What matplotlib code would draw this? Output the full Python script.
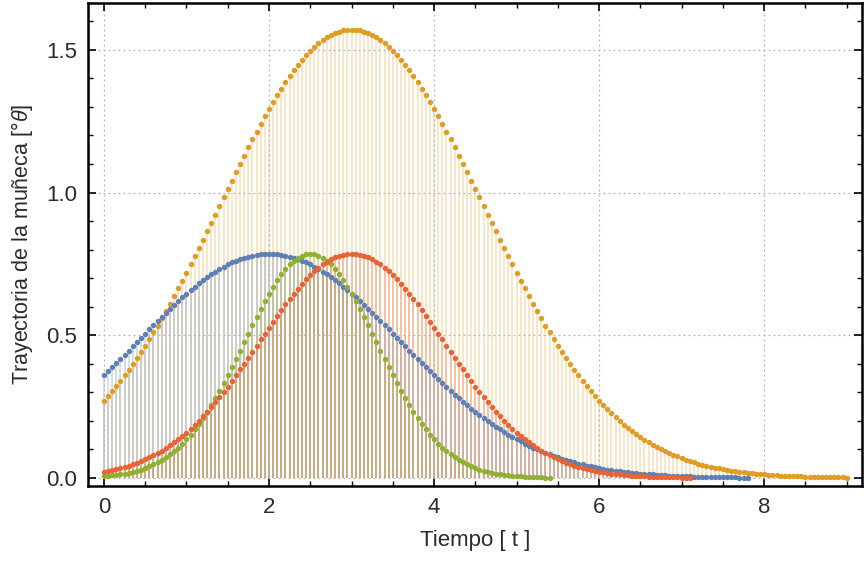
import numpy as np
import matplotlib
matplotlib.use("Agg")
import matplotlib.pyplot as plt

plt.rcParams['font.family'] = ['Liberation Sans', 'DejaVu Sans']
plt.rcParams['mathtext.fontset'] = 'custom'
plt.rcParams['mathtext.it'] = 'Liberation Sans:italic'
plt.rcParams['mathtext.rm'] = 'Liberation Sans'

# sample spacing of the recordings (s)
dt = 0.05

# wrist trajectory samples, starting at t = 0
blue = [0.359, 0.374, 0.388, 0.402, 0.417, 0.432, 0.446, 0.461, 0.476, 0.491,
        0.506, 0.521, 0.535, 0.550, 0.564, 0.579, 0.593, 0.606, 0.620, 0.633,
        0.646, 0.658, 0.670, 0.682, 0.693, 0.703, 0.713, 0.723, 0.732, 0.740,
        0.748, 0.755, 0.761, 0.766, 0.771, 0.775, 0.779, 0.782, 0.783, 0.785,
        0.785,
        0.785, 0.783, 0.782, 0.779, 0.775, 0.771, 0.766, 0.761, 0.755, 0.748,
        0.740, 0.732, 0.723, 0.713, 0.703, 0.693, 0.682, 0.670, 0.658, 0.646,
        0.633, 0.620, 0.606, 0.593, 0.579, 0.564, 0.550, 0.535, 0.521, 0.506,
        0.491, 0.476, 0.461, 0.446, 0.432, 0.417, 0.402, 0.388, 0.374, 0.359,
        0.345, 0.332, 0.318, 0.305, 0.292, 0.279, 0.267, 0.255, 0.243, 0.232,
        0.220, 0.210, 0.199, 0.189, 0.179, 0.170, 0.161, 0.152, 0.143, 0.135,
        0.128, 0.120, 0.113, 0.106, 0.100, 0.094, 0.088, 0.082, 0.077, 0.072,
        0.067, 0.062, 0.058, 0.054, 0.050, 0.047, 0.043, 0.040, 0.037, 0.034,
        0.032, 0.029, 0.027, 0.025, 0.023, 0.021, 0.019, 0.018, 0.016, 0.015,
        0.014, 0.013, 0.012, 0.010, 0.010, 0.009, 0.008, 0.007, 0.007, 0.006,
        0.005, 0.005, 0.004, 0.004, 0.004, 0.003, 0.003, 0.003, 0.002, 0.002,
        0.002, 0.002, 0.002, 0.001, 0.001, 0.001]

orange = [0.271, 0.287, 0.304, 0.322, 0.340, 0.359, 0.378, 0.399, 0.420, 0.441,
          0.463, 0.486, 0.510, 0.534, 0.559, 0.584, 0.610, 0.637, 0.664, 0.691,
          0.719, 0.748, 0.776, 0.805, 0.834, 0.864, 0.893, 0.923, 0.953, 0.983,
          1.012, 1.042, 1.071, 1.100, 1.129, 1.158, 1.186, 1.213, 1.240, 1.267,
          1.292, 1.317, 1.341, 1.364, 1.386, 1.408, 1.428, 1.447, 1.464, 1.481,
          1.496, 1.510, 1.523, 1.534, 1.544, 1.552, 1.559, 1.564, 1.568, 1.570,
          1.571,
          1.570, 1.568, 1.564, 1.559, 1.552, 1.544, 1.534, 1.523, 1.510, 1.496,
          1.481, 1.464, 1.447, 1.428, 1.408, 1.386, 1.364, 1.341, 1.317, 1.292,
          1.267, 1.240, 1.213, 1.186, 1.158, 1.129, 1.100, 1.071, 1.042, 1.012,
          0.983, 0.953, 0.923, 0.893, 0.864, 0.834, 0.805, 0.776, 0.748, 0.719,
          0.691, 0.664, 0.637, 0.610, 0.584, 0.559, 0.534, 0.510, 0.486, 0.463,
          0.441, 0.420, 0.399, 0.378, 0.359, 0.340, 0.322, 0.304, 0.287, 0.271,
          0.255, 0.240, 0.226, 0.213, 0.200, 0.187, 0.175, 0.164, 0.154, 0.144,
          0.134, 0.125, 0.116, 0.108, 0.101, 0.094, 0.087, 0.081, 0.075, 0.069,
          0.064, 0.059, 0.054, 0.050, 0.046, 0.042, 0.039, 0.036, 0.033, 0.030,
          0.028, 0.025, 0.023, 0.021, 0.019, 0.017, 0.016, 0.014, 0.013, 0.012,
          0.011, 0.010, 0.009, 0.008, 0.007, 0.007, 0.006, 0.005, 0.005, 0.004,
          0.004, 0.003, 0.003, 0.003, 0.002, 0.002, 0.002, 0.002, 0.002, 0.001]

green = [0.006, 0.007, 0.009, 0.010, 0.013, 0.015, 0.018, 0.021, 0.025, 0.029,
         0.034, 0.040, 0.047, 0.054, 0.062, 0.072, 0.082, 0.094, 0.106, 0.120,
         0.135, 0.152, 0.170, 0.189, 0.210, 0.232, 0.255, 0.279, 0.305, 0.332,
         0.359, 0.388, 0.417, 0.446, 0.476, 0.506, 0.535, 0.564, 0.593, 0.620,
         0.646, 0.670, 0.693, 0.713, 0.732, 0.748, 0.761, 0.771, 0.779, 0.783,
         0.785,
         0.783, 0.779, 0.771, 0.761, 0.748, 0.732, 0.713, 0.693, 0.670, 0.646,
         0.620, 0.593, 0.564, 0.535, 0.506, 0.476, 0.446, 0.417, 0.388, 0.359,
         0.332, 0.305, 0.279, 0.255, 0.232, 0.210, 0.189, 0.170, 0.152, 0.135,
         0.120, 0.106, 0.094, 0.082, 0.072, 0.062, 0.054, 0.047, 0.040, 0.034,
         0.029, 0.025, 0.021, 0.018, 0.015, 0.013, 0.010, 0.009, 0.007, 0.006,
         0.005, 0.004, 0.003, 0.003, 0.002, 0.002, 0.001, 0.001]

red = [0.022, 0.024, 0.027, 0.031, 0.034, 0.039, 0.043, 0.048, 0.053, 0.059,
       0.065, 0.072, 0.079, 0.087, 0.095, 0.104, 0.114, 0.124, 0.135, 0.147,
       0.159, 0.172, 0.186, 0.201, 0.216, 0.232, 0.248, 0.265, 0.283, 0.301,
       0.320, 0.340, 0.359, 0.380, 0.400, 0.421, 0.442, 0.463, 0.485, 0.506,
       0.527, 0.548, 0.568, 0.589, 0.608, 0.627, 0.646, 0.663, 0.680, 0.696,
       0.711, 0.724, 0.737, 0.748, 0.757, 0.766, 0.773, 0.778, 0.782, 0.784,
       0.785,
       0.784, 0.782, 0.778, 0.773, 0.766, 0.757, 0.748, 0.737, 0.724, 0.711,
       0.696, 0.680, 0.663, 0.646, 0.627, 0.608, 0.589, 0.568, 0.548, 0.527,
       0.506, 0.485, 0.463, 0.442, 0.421, 0.400, 0.380, 0.359, 0.340, 0.320,
       0.301, 0.283, 0.265, 0.248, 0.232, 0.216, 0.201, 0.186, 0.172, 0.159,
       0.147, 0.135, 0.124, 0.114, 0.104, 0.095, 0.087, 0.079, 0.072, 0.065,
       0.059, 0.053, 0.048, 0.043, 0.039, 0.034, 0.031, 0.027, 0.024, 0.022,
       0.019, 0.017, 0.015, 0.013, 0.012, 0.010, 0.009, 0.008, 0.007, 0.006,
       0.005, 0.004, 0.004, 0.003, 0.003, 0.002, 0.002, 0.002, 0.002, 0.001,
       0.001, 0.001]

series = [
    (orange, '#E19C24'),
    (blue, '#5E81B5'),
    (green, '#8FB032'),
    (red, '#EB6235'),
]

fig = plt.figure(figsize=(8.65, 5.63), dpi=100)
ax = fig.add_axes([0.102, 0.137, 0.894, 0.858])

# filling to axis (stems) first, then the points on top
for vals, col in series:
    t = np.arange(len(vals)) * dt
    ax.vlines(t, 0, vals, colors=col, alpha=0.28, lw=1.3, zorder=1)
for vals, col in series:
    t = np.arange(len(vals)) * dt
    ax.plot(t, vals, 'o', color=col, ms=3.9, mew=0, zorder=3)

ax.set_xlim(-0.19, 9.18)
ax.set_ylim(-0.028, 1.665)
ax.set_xticks([0, 2, 4, 6, 8])
ax.set_xticks(np.arange(0, 9.01, 0.5), minor=True)
ax.set_yticks([0.0, 0.5, 1.0, 1.5])
ax.set_yticklabels(['0.0', '0.5', '1.0', '1.5'])
ax.set_yticks(np.arange(0, 1.61, 0.1), minor=True)

ax.grid(True, which='major', ls=(0, (1.5, 2.5)), color='#B5B5B5', lw=0.9, zorder=0)

ax.tick_params(which='both', direction='in', top=True, right=True,
               labelsize=16, colors='black', labelcolor='#2b2b2b')
ax.tick_params(which='major', length=6, width=1.2, pad=8)
ax.tick_params(which='minor', length=3.5, width=1.0)
for s in ax.spines.values():
    s.set_linewidth(1.8)
    s.set_color('black')

ax.set_xlabel('Tiempo [ t ]', fontsize=16, color='#2b2b2b', labelpad=9)
ax.set_ylabel(r'Trayectoria de la muñeca [°$\theta$]', fontsize=15.5,
              color='#2b2b2b', labelpad=8)

fig.savefig('out.png', dpi=100)
